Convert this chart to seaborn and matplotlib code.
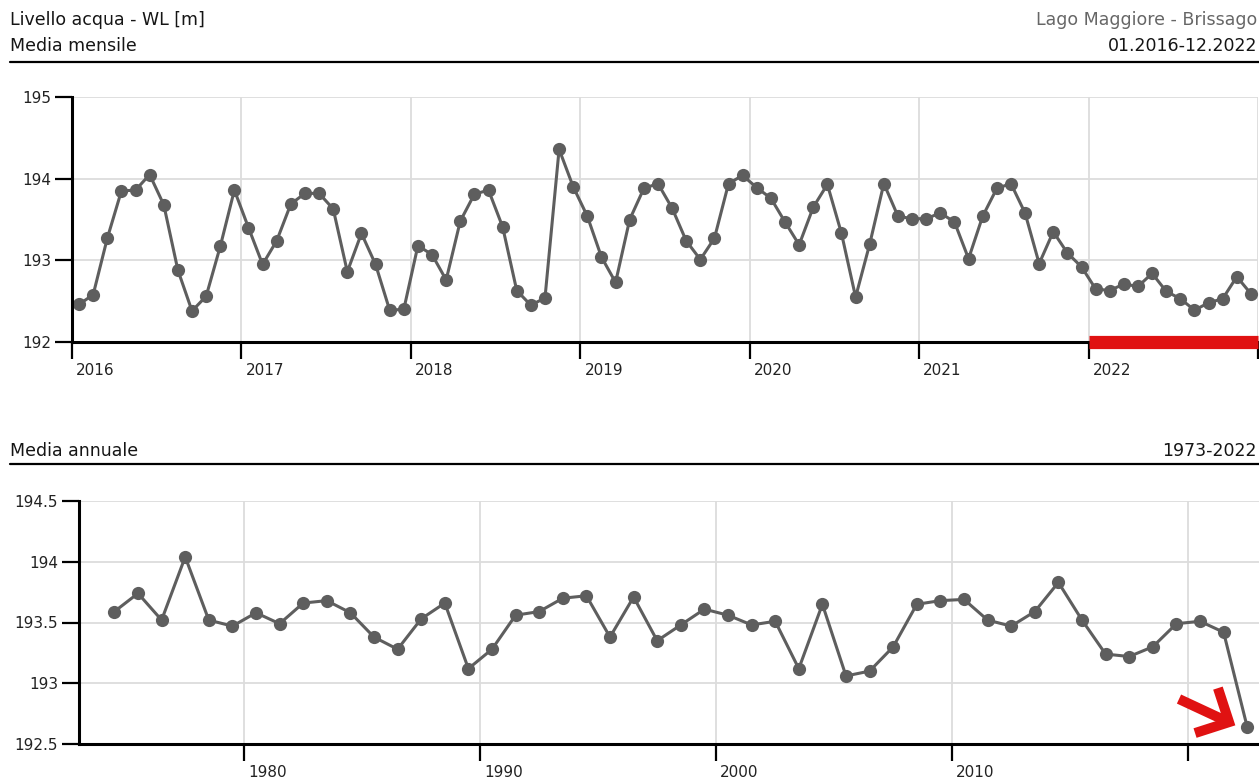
import numpy as np
import pandas as pd
import seaborn as sns
import matplotlib.pyplot as plt
from matplotlib.lines import Line2D
from matplotlib.transforms import ScaledTranslation

# Lago Maggiore - Brissago, water level (m a.s.l.), monthly means 2016-2022
wl_2016 = [192.46, 192.58, 193.27, 193.85, 193.86, 194.05, 193.68, 192.88, 192.38, 192.56, 193.17, 193.86]
wl_2017 = [193.40, 192.95, 193.24, 193.69, 193.82, 193.82, 193.63, 192.86, 193.33, 192.95, 192.39, 192.40]
wl_2018 = [193.18, 193.07, 192.76, 193.48, 193.81, 193.86, 193.41, 192.63, 192.45, 192.54, 194.36, 193.90]
wl_2019 = [193.54, 193.04, 192.73, 193.50, 193.88, 193.94, 193.64, 193.24, 193.01, 193.27, 193.94, 194.04]
wl_2020 = [193.89, 193.76, 193.47, 193.19, 193.65, 193.93, 193.33, 192.55, 193.20, 193.94, 193.54, 193.51]
wl_2021 = [193.51, 193.58, 193.47, 193.02, 193.54, 193.88, 193.94, 193.58, 192.96, 193.35, 193.09, 192.92]
wl_2022 = [192.65, 192.63, 192.71, 192.68, 192.84, 192.62, 192.53, 192.39, 192.48, 192.53, 192.80, 192.59]
monthly_years = [2016, 2017, 2018, 2019, 2020, 2021, 2022]
monthly_values = [wl_2016, wl_2017, wl_2018, wl_2019, wl_2020, wl_2021, wl_2022]

# annual means
annual_years = list(range(1974, 2023))
annual_wl = [193.59, 193.74, 193.52, 194.04, 193.52, 193.47, 193.58, 193.49, 193.66, 193.68,
             193.58, 193.38, 193.28, 193.53, 193.66, 193.12, 193.28, 193.56, 193.59, 193.70,
             193.72, 193.38, 193.71, 193.35, 193.48, 193.61, 193.56, 193.48, 193.51, 193.12,
             193.65, 193.06, 193.10, 193.30, 193.65, 193.68, 193.69, 193.52, 193.47, 193.59,
             193.83, 193.52, 193.24, 193.22, 193.30, 193.49, 193.51, 193.42, 192.64]

top_ticks = [2016, 2017, 2018, 2019, 2020, 2021, 2022, 2023]
top_yticks = [192, 193, 194, 195]
bottom_ticks = [1980, 1990, 2000, 2010, 2020]
bottom_yticks = [192.5, 193, 193.5, 194, 194.5]
bottom_yticklabels = ['192.5', '193', '193.5', '194', '194.5']

rows = []
for yr, vals in zip(monthly_years, monthly_values):
    for m, v in enumerate(vals, start=1):
        rows.append({'t': yr + (m - 0.5) / 12, 'wl': v})
monthly = pd.DataFrame(rows)
annual = pd.DataFrame({'t': np.array(annual_years) + 0.5, 'wl': annual_wl})

sns.set_style('white')
plt.rcParams['font.family'] = ['DejaVu Sans']

W, H = 1259, 780
GREY = '#5e5e5e'
RED = '#e01212'

fig = plt.figure(figsize=(W / 100, H / 100), dpi=100)
ax1 = fig.add_axes([72 / W, 1 - 342 / H, (1258 - 72) / W, (342 - 97) / H])
ax2 = fig.add_axes([79 / W, 1 - 744 / H, (1259 - 79) / W, (744 - 501) / H])

sns.lineplot(data=monthly, x='t', y='wl', ax=ax1, color=GREY, marker='o',
             markersize=9.5, markeredgewidth=0, linewidth=2.2)
sns.lineplot(data=annual, x='t', y='wl', ax=ax2, color=GREY, marker='o',
             markersize=9.5, markeredgewidth=0, linewidth=2.2)


def style_axis(ax, xticks, xlabels, yticks, ylabels, xlim, ylim):
    ax.set_xlim(*xlim)
    ax.set_ylim(*ylim)
    ax.set_xticks(xticks)
    ax.set_xticklabels(xlabels)
    ax.set_yticks(yticks)
    ax.set_yticklabels(ylabels)
    ax.set_xlabel('')
    ax.set_ylabel('')
    for s in ['top', 'right']:
        ax.spines[s].set_visible(False)
    for s in ['left', 'bottom']:
        ax.spines[s].set_linewidth(2.2)
        ax.spines[s].set_color('black')
    ax.grid(True, color='#dcdcdc', linewidth=1.3)
    ax.set_axisbelow(True)
    ax.tick_params(axis='both', bottom=True, left=True, length=12, width=1.6,
                   color='black', labelsize=11, labelcolor='#222222',
                   direction='out', pad=3)
    shift = ScaledTranslation(3 / 72, 0, fig.dpi_scale_trans)
    for lab in ax.get_xticklabels():
        lab.set_horizontalalignment('left')
        lab.set_transform(lab.get_transform() + shift)


style_axis(ax1, top_ticks, [str(t) for t in top_ticks[:-1]] + [''],
           top_yticks, [str(t) for t in top_yticks], (2016, 2023), (192, 195))
style_axis(ax2, bottom_ticks, [str(t) for t in bottom_ticks[:-1]] + [''],
           bottom_yticks, bottom_yticklabels, (1973, 2023), (192.5, 194.5))

# red bar marking the current year
ax1.plot([2022, 2023], [192, 192], color=RED, linewidth=9.5, solid_capstyle='butt',
         clip_on=False, zorder=5)

# red chevron arrow pointing at the last annual mean
ax2.plot([2019.61, 2021.6], [192.87, 192.69], color=RED, linewidth=7.2,
         solid_capstyle='butt', zorder=6, clip_on=False)
ax2.plot([2021.26, 2021.73, 2020.29], [192.96, 192.68, 192.59], color=RED, linewidth=7.2,
         solid_capstyle='butt', solid_joinstyle='miter', zorder=6, clip_on=False)

# headers
hdr = dict(fontsize=12.5, va='center')
fig.text(10 / W, 1 - 20 / H, 'Livello acqua - WL [m]', color='#151515', **hdr)
fig.text(10 / W, 1 - 46 / H, 'Media mensile', color='#151515', **hdr)
fig.text(1257 / W, 1 - 20 / H, 'Lago Maggiore - Brissago', ha='right', color='#666666', **hdr)
fig.text(1257 / W, 1 - 46 / H, '01.2016-12.2022', ha='right', color='#151515', **hdr)
fig.add_artist(Line2D([10 / W, 1], [1 - 62 / H, 1 - 62 / H], transform=fig.transFigure,
                      color='black', linewidth=1.6))
fig.text(10 / W, 1 - 451 / H, 'Media annuale', color='#151515', **hdr)
fig.text(1257 / W, 1 - 451 / H, '1973-2022', ha='right', color='#151515', **hdr)
fig.add_artist(Line2D([10 / W, 1], [1 - 464 / H, 1 - 464 / H], transform=fig.transFigure,
                      color='black', linewidth=1.6))

fig.savefig('out.png', dpi=100)
